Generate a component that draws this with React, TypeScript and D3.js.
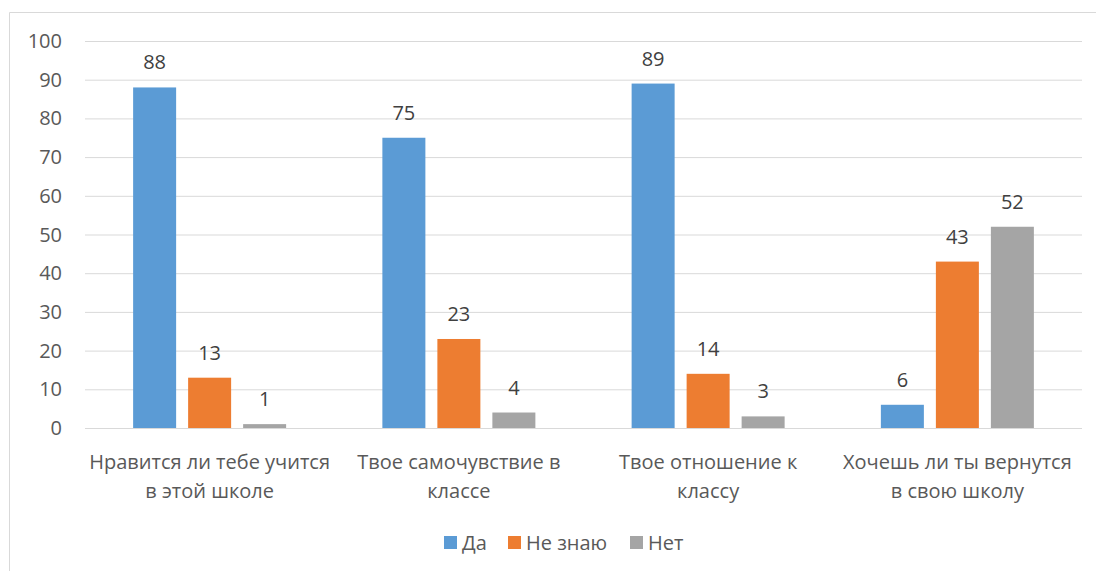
import React from "react";
import * as d3 from "d3";

const categories = [
  ["Нравится ли тебе учится", "в этой школе"],
  ["Твое самочувствие в", "классе"],
  ["Твое отношение к", "классу"],
  ["Хочешь ли ты вернутся", "в свою школу"],
];
const seriesNames = ["Да", "Не знаю", "Нет"];
const seriesColors = ["#5b9bd5", "#ed7d31", "#a5a5a5"];
const da = [88, 75, 89, 6];
const neZnayu = [13, 23, 14, 43];
const net = [1, 4, 3, 52];
const yTicks = [0, 10, 20, 30, 40, 50, 60, 70, 80, 90, 100];

export default function App() {
  const W = 1096, H = 571;
  const left = 85, right = 1082, top = 41, bottom = 428;
  const series = [da, neZnayu, net];
  const x0 = d3.scaleBand<number>().domain(d3.range(categories.length)).range([left, right]);
  const y = d3.scaleLinear().domain([0, 100]).range([bottom, top]);
  const barW = 43, step = 55;
  const font = "'Open Sans', 'Noto Sans', sans-serif";
  const txt = "#595959";
  const fs = 20;
  const legendX = [444, 508, 630];
  return (
    <svg width={W} height={H} style={{ position: "absolute", left: 0, top: 0 }}>
      <rect x={0} y={0} width={W} height={H} fill="#fff" />
      <path d={`M9.5,${H} V12.5 H${W}`} fill="none" stroke="#d9d9d9" />
      {yTicks.map((t) => (
        <g key={t}>
          <line x1={left} x2={right} y1={y(t) + 0.5} y2={y(t) + 0.5} stroke="#d9d9d9" strokeWidth={1} />
          <text x={62} y={y(t)} dy="0.35em" textAnchor="end" fontFamily={font} fontSize={fs} fill={txt}>{t}</text>
        </g>
      ))}
      {categories.map((c, i) => {
        const cx = (x0(i) as number) + x0.bandwidth() / 2;
        return (
          <g key={i}>
            {series.map((s, j) => {
              const bx = cx + (j - 1) * step - barW / 2;
              return (
                <g key={j}>
                  <rect x={bx} y={y(s[i])} width={barW} height={bottom - y(s[i])} fill={seriesColors[j]} />
                  <text x={bx + barW / 2} y={y(s[i]) - 18} textAnchor="middle" fontFamily={font} fontSize={fs} fill="#404040">{s[i]}</text>
                </g>
              );
            })}
            <text x={cx} y={469} textAnchor="middle" fontFamily={font} fontSize={fs} fill={txt}>{c[0]}</text>
            <text x={cx} y={498} textAnchor="middle" fontFamily={font} fontSize={fs} fill={txt}>{c[1]}</text>
          </g>
        );
      })}
      {seriesNames.map((n, j) => (
        <g key={n}>
          <rect x={legendX[j]} y={536} width={13} height={13} fill={seriesColors[j]} />
          <text x={legendX[j] + 18} y={550} fontFamily={font} fontSize={fs} fill={txt}>{n}</text>
        </g>
      ))}
    </svg>
  );
}
